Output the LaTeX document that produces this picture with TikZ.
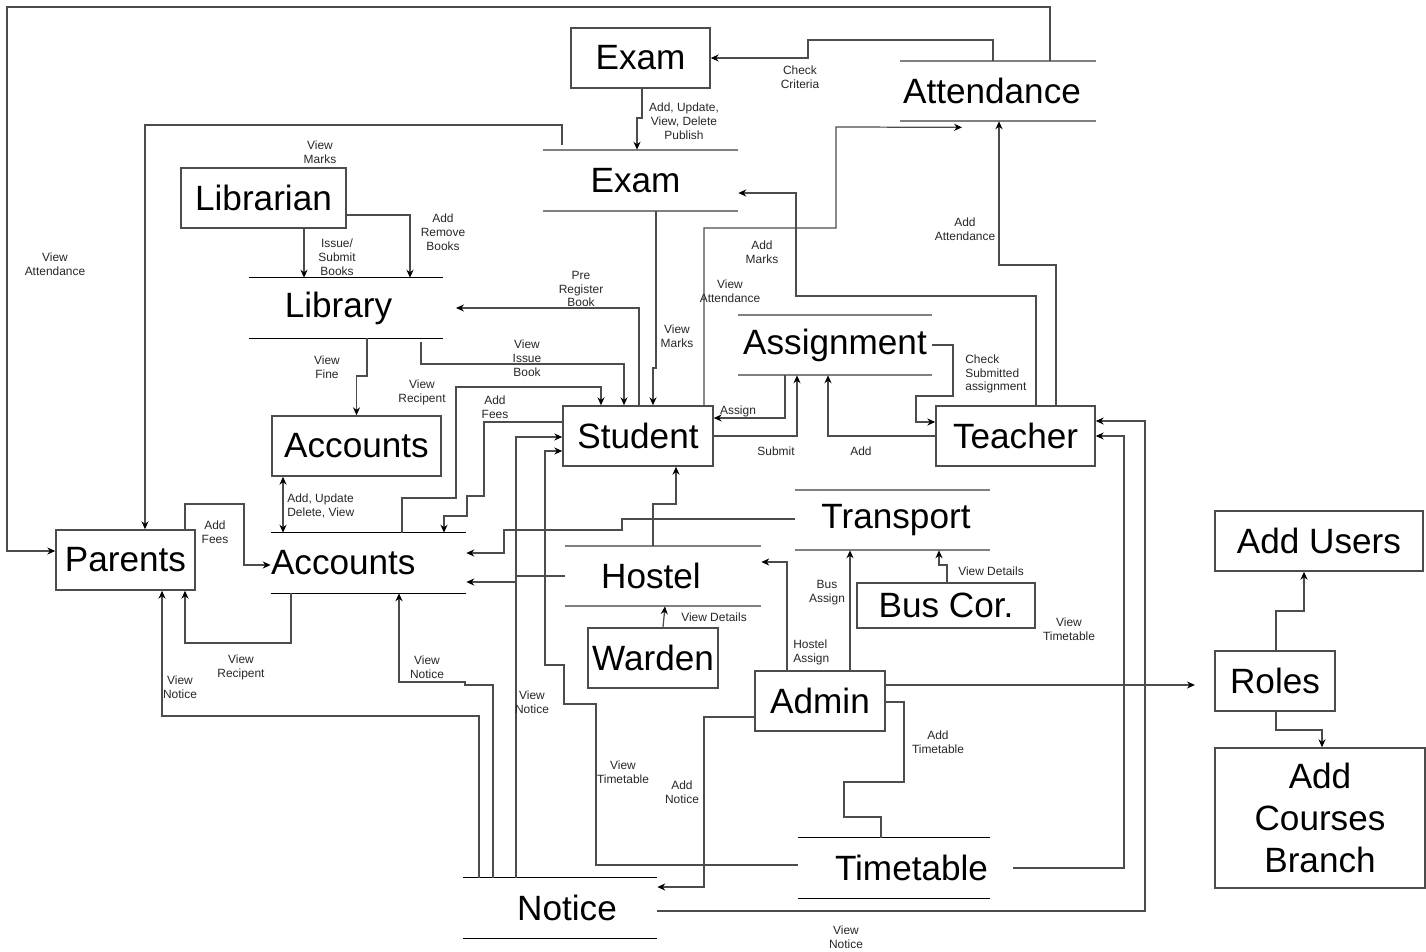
\documentclass[tikz,border=0pt]{standalone}
\usepackage{fontspec}
\setmainfont{Liberation Sans}
\usetikzlibrary{arrows.meta}
\usetikzlibrary{positioning}

\begin{document}
\begin{tikzpicture}[x=0.02cm, y=-0.02cm]
            \tikzset{every node/.style={inner sep=0pt, font=\fontsize{20}{24}\selectfont},
                    box/.style={draw=black!70, line width=0.9pt, minimum height=1.2cm},
                    store/.style={minimum height=1.2cm},
                    lbl/.style={font=\fontsize{6.8}{7.9}\selectfont, align=center, text=black!85},
                    >={Stealth[length=4.5pt,width=4pt,black]},
                    flow/.style={draw=black!70, line width=0.7pt, ->}}
            \useasboundingbox (0,0) rectangle (1426,952);
            % boxes
            \node[box, minimum width=2.78cm] (exambox) at (640.5,58) {Exam};
            \node[box, minimum width=3.3cm] (librarian) at (263.5,198) {Librarian};
            \node[box, minimum width=3.38cm] (accbox) at (356.5,446) {Accounts};
            \node[box, minimum width=3cm] (student) at (638,436) {Student};
            \node[box, minimum width=3.18cm] (teacher) at (1015.5,436) {Teacher};
            \node[box, minimum width=2.78cm] (parents) at (125.5,560) {Parents};
            \node[box, minimum width=3.56cm, minimum height=0.9cm] (buscor) at (946,605.5) {Bus Cor.};
            \node[box, minimum width=2.6cm] (warden) at (653,658) {Warden};
            \node[box, minimum width=2.6cm] (admin) at (820,701) {Admin};
            \node[box, minimum width=4.16cm] (addusers) at (1319,541) {Add Users};
            \node[box, minimum width=2.4cm] (roles) at (1275,681) {Roles};
            \node[box, minimum width=4.2cm, minimum height=2.8cm, align=center] (courses) at (1320,818) {Add\\Courses\\Branch};
            % stores
            \node[store, minimum width=3.92cm] (attstore) at (998,91) {Attendance\hspace*{0.24cm}};
            \node[store, minimum width=3.9cm, minimum height=1.22cm] (examstore) at (640.5,180.5) {Exam\hspace*{0.2cm}};
            \node[store, minimum width=3.88cm] (libstore) at (346,308) {Library\hspace*{0.3cm}};
            \node[store, minimum width=3.88cm] (assignstore) at (835,345) {Assignment};
            \node[store, minimum width=3.9cm] (transstore) at (892.5,520) {\hspace*{0.14cm}Transport};
            \node[store, text width=3.9cm, align=left] (accstore) at (368.5,563) {Accounts};
            \node[store, minimum width=3.92cm] (hostelstore) at (663,576) {Hostel\hspace*{0.48cm}};
            \node[store, minimum width=3.84cm] (timestore) at (894,868) {\hspace*{0.7cm}Timetable};
            \node[store, minimum width=3.88cm] (noticestore) at (560,908) {\hspace*{0.28cm}Notice};
            \foreach \s in {attstore, examstore, assignstore, transstore, hostelstore}
                \draw[draw=black!50, line width=1.1pt] (\s.north west) -- (\s.north east) (\s.south west) -- (\s.south east);
            \foreach \s in {libstore, accstore, noticestore, timestore}
                \draw[line width=0.7pt] (\s.north west) -- (\s.north east) (\s.south west) -- (\s.south east);
            % flows
            \draw[flow] (1050,0 |- attstore.north) -- (1050,7) -- (7,7) -- (7,551) -- (parents.west |- 0,551);
            \draw[flow] (993,0 |- attstore.north) -- (993,40) -- (808,40) -- (808,58) -- (exambox.east);
            \draw[flow] (642,0 |- exambox.south) -- (642,118) -- (637,118) -- (637,0 |- examstore.north);
            \draw[flow] (562,145) -- (562,125) -- (145,125) -- (145,0 |- parents.north);
            \draw[flow] (304,0 |- librarian.south) -- (304,0 |- libstore.north);
            \draw[flow] (librarian.east |- 0,215) -- (410,215) -- (410,0 |- libstore.north);
            \draw[flow] (367,0 |- libstore.south) -- (367,376) -- (356.5,376) -- (accbox.north);
            \draw[flow] (639,0 |- student.north) -- (639,308) -- (456,0 |- libstore.center);
            \draw[flow] (421,342) -- (421,364) -- (624,364) -- (624,0 |- student.north);
            \draw[flow] (402,0 |- accstore.north) -- (402,498) -- (456,498) -- (456,387) -- (601,387) -- (601,0 |- student.north);
            \draw[flow] (student.west |- 0,422) -- (484,422) -- (484,496) -- (467,496) -- (467,516) -- (444,516) -- (444,0 |- accstore.north);
            \draw[flow] (516,0 |- noticestore.north) -- (516,437) -- (student.west |- 0,437);
            \draw[flow] (timestore.west |- 0,865) -- (596,865) -- (596,704) -- (564,704) -- (564,665) -- (545,665) -- (545,451) -- (student.west |- 0,451);
            \draw[flow] (hostelstore.west |- 0,576) -- (516,576) -- (516,582) -- (accstore.east |- 0,582);
            \draw[flow] (transstore.west |- 0,519) -- (622,519) -- (622,530) -- (504,530) -- (504,553) -- (accstore.east |- 0,553);
            \draw[flow, <->] (283,0 |- accbox.south) -- (283,0 |- accstore.north);
            \draw[flow] (185,0 |- parents.north) -- (185,504) -- (244,504) -- (244,565) -- (accstore.west |- 0,565);
            \draw[flow] (291,0 |- accstore.south) -- (291,643) -- (185,643) -- (185,0 |- parents.south);
            \draw[flow] (479,0 |- noticestore.north) -- (479,716) -- (162,716) -- (162,0 |- parents.south);
            \draw[flow] (493,0 |- noticestore.north) -- (493,685) -- (465,685) -- (465,682) -- (399,682) -- (399,0 |- accstore.south);
            \draw[flow] (653,0 |- hostelstore.north) -- (653,504) -- (676,504) -- (676,0 |- student.south);
            \draw[flow] (663,0 |- warden.north) -- (665,0 |- hostelstore.south);
            \draw[flow] (787,0 |- admin.north) -- (787,562) -- (hostelstore.east |- 0,562);
            \draw[flow] (850,0 |- admin.north) -- (850,0 |- transstore.south);
            \draw[flow] (947,0 |- buscor.north) -- (947,565) -- (939,565) -- (939,0 |- transstore.south);
            \draw[flow, shorten >=11pt] (admin.east |- 0,685) -- (roles.west |- 0,685);
            \draw[flow] (1276,0 |- roles.north) -- (1276,611) -- (1304,611) -- (1304,0 |- addusers.south);
            \draw[flow] (1276,0 |- roles.south) -- (1276,730) -- (1322,730) -- (1322,0 |- courses.north);
            \draw[flow, -] (admin.east |- 0,702) -- (904,702) -- (904,782) -- (844,782) -- (844,817) -- (881,817) -- (881,0 |- timestore.north);
            \draw[flow] (admin.west |- 0,717) -- (704,717) -- (704,887) -- (noticestore.east |- 0,887);
            \draw[flow] (1013,0 |- timestore.center) -- (1124,868) -- (1124,436) -- (teacher.east);
            \draw[flow] (noticestore.east |- 0,911) -- (1145,911) -- (1145,421) -- (teacher.east |- 0,421);
            \draw[flow] (teacher.west) -- (828,436) -- (828,0 |- assignstore.south);
            \draw[flow] (student.east) -- (797,436) -- (797,0 |- assignstore.south);
            \draw[flow] (785,0 |- assignstore.south) -- (785,418) -- (student.east |- 0,418);
            \draw[flow] (assignstore.east) -- (953,345) -- (953,396) -- (916,396) -- (916,422) -- (teacher.west |- 0,422);
            \draw[flow] (1056,0 |- teacher.north) -- (1056,265) -- (999,265) -- (999,0 |- attstore.south);
            \draw[flow] (1036,0 |- teacher.north) -- (1036,296) -- (796,296) -- (796,193) -- (examstore.east |- 0,193);
            \draw[flow] (704,0 |- student.north) -- (704,228) -- (836,228) -- (836,127) -- ([shift={(-36,6)}]attstore.south);
            \draw[flow] (656,0 |- examstore.south) -- (656,368) -- (653,368) -- (653,0 |- student.north);
            % labels
            \node[lbl] (t1) at (55,264) {View\\Attendance};
            \node[lbl] (t2) at (800,77) {Check\\Criteria};
            \node[lbl] (t3) at (684,121) {Add, Update,\\View, Delete\\Publish};
            \node[lbl] (t4) at (320,152) {View\\Marks};
            \node[lbl] (t5) at (337,257) {Issue/\\Submit\\Books};
            \node[lbl] (t6) at (443,232) {Add\\Remove\\Books};
            \node[lbl] (t7) at (581,289) {Pre\\Register\\Book};
            \node[lbl] (t8) at (327,367) {View\\Fine};
            \node[lbl] (t9) at (527,358) {View\\Issue\\Book};
            \node[lbl] (t10) at (422,392) {View\\Recipent};
            \node[lbl] (t11) at (495,407) {Add\\Fees};
            \node[lbl, anchor=west, align=left] (t12) at (287,506) {Add, Update\\Delete, View};
            \node[lbl] (t13) at (215,532) {Add\\Fees};
            \node[lbl] (t14) at (241,667) {View\\Recipent};
            \node[lbl] (t15) at (180,687) {View\\Notice};
            \node[lbl] (t16) at (427,667) {View\\Notice};
            \node[lbl] (t17) at (532,702) {View\\Notice};
            \node[lbl] (t18) at (623,772) {View\\Timetable};
            \node[lbl] (t19) at (682,792) {Add\\Notice};
            \node[lbl] (t20) at (714,617) {View Details};
            \node[lbl, anchor=west, align=left] (t21) at (793,652) {Hostel\\Assign};
            \node[lbl] (t22) at (827,593) {Bus\\Assign};
            \node[lbl] (t23) at (991,571) {View Details};
            \node[lbl] (t24) at (1069,629) {View\\Timetable};
            \node[lbl] (t25) at (938,742) {Add\\Timetable};
            \node[lbl] (t26) at (846,937) {View\\Notice};
            \node[lbl] (t27) at (965,229) {Add\\Attendance};
            \node[lbl] (t28) at (762,252) {Add\\Marks};
            \node[lbl] (t29) at (730,291) {View\\Attendance};
            \node[lbl] (t30) at (677,336) {View\\Marks};
            \node[lbl, anchor=west, align=left] (t31) at (965,374) {Check\\Submitted\\assignment};
            \node[lbl] (t32) at (738,411) {Assign};
            \node[lbl] (t33) at (776,451) {Submit};
            \node[lbl] (t34) at (861,451) {Add};
        \end{tikzpicture}
\end{document}
